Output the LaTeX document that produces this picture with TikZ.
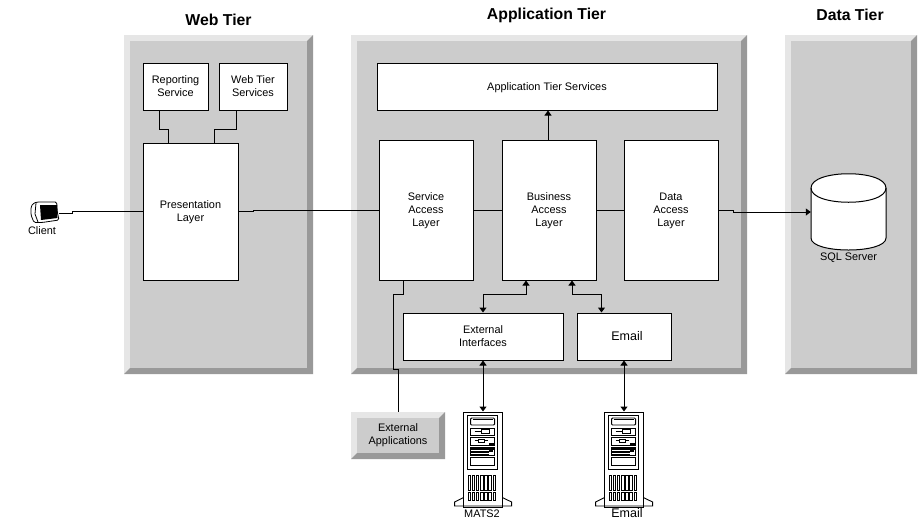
\documentclass[tikz,border=0pt]{standalone}
\usepackage{fontspec}
\setmainfont{Liberation Sans}
\usetikzlibrary{arrows.meta}
\definecolor{faceg}{HTML}{CCCCCC}
\definecolor{lightg}{HTML}{E6E6E6}
\definecolor{darkg}{HTML}{999999}
\newcommand{\bevelpanel}[4]{%
  \fill[lightg] (#1,#2) rectangle (#3,#4);
  \fill[darkg] (#3,#2) -- (#3,#4) -- (#1,#4) -- (#1+6,#4-6) -- (#3-6,#4-6) -- (#3-6,#2+6) -- cycle;
  \fill[faceg] (#1+6,#2+6) rectangle (#3-6,#4-6);
}
\newcommand{\boxtext}[1]{\raisebox{-3.7pt}[0pt][0pt]{\begin{tabular}{@{}c@{}}#1\end{tabular}}}
\tikzset{
  lbox/.style={draw=black,fill=white,line width=1pt,inner sep=0pt,
    font=\fontsize{10.9}{13}\selectfont},
  bigbox/.style={draw=black,fill=white,line width=1pt,inner sep=0pt,align=center,font=\fontsize{12.5}{15}\selectfont},
  title/.style={font=\fontsize{15.8}{18}\selectfont\bfseries,inner sep=0pt},
  lab/.style={font=\fontsize{10.9}{13}\selectfont,inner sep=0pt,align=center},
  biglab/.style={font=\fontsize{12.5}{15}\selectfont,inner sep=0pt},
  wire/.style={draw=black,line width=1pt},
  tip/.style={wire,-{Triangle[length=5pt,width=7pt]}},
  tiptwo/.style={wire,{Triangle[length=5pt,width=7pt]}-{Triangle[length=5pt,width=7pt]}},
  serverpic/.pic={
    \draw[line width=0.9pt] (4,3) rectangle (34.3,57);
    \draw[line width=0.9pt,rounded corners=1pt] (7,6) rectangle (31,13);
    \draw[line width=0.9pt] (9,7.5) -- (29,7.5);
    \draw[line width=0.9pt] (7,16) rectangle (31,23);
    \draw[line width=0.9pt] (11,19.5) -- (18,19.5);
    \draw[line width=0.9pt] (18,17.5) rectangle (26,21.5);
    \draw[line width=0.9pt] (7,25) rectangle (31,33);
    \draw[line width=0.9pt] (11,28.5) -- (24,28.5);
    \draw[line width=0.9pt,fill=white] (15,27) rectangle (21,30);
    \fill (25,30.5) rectangle (31,33);
    \draw[line width=0.9pt] (7,35) rectangle (31,43);
    \fill (7,36) rectangle (31,37.5);
    \fill (7,39) rectangle (25,40.5);
    \fill (7,41.5) rectangle (25,43);
    \fill (25,35) rectangle (29,40);
    \draw[line width=0.9pt] (7,45) rectangle (31,53);
    \foreach \vx in {4.5,8.5,12.5,17,21,25,29.5}{
      \draw[line width=0.6pt] (\vx,63) rectangle (\vx+2.6,78);
      \draw[line width=0.6pt] (\vx,80) rectangle (\vx+2.6,88);
    }
    \draw[line width=0.9pt] (0,85.5) -- (-9,90) -- (-9,94) -- (48,94) -- (48,90) -- (38.7,85.5);
  }
}
\begin{document}
\begin{tikzpicture}[x=1pt,y=-1pt]
\useasboundingbox (0,0) rectangle (920,523);
\fill[white] (0,0) rectangle (920,523);

% tier panels
\bevelpanel{124}{35}{313}{374}
\bevelpanel{351}{35}{747}{374}
\bevelpanel{785}{35}{917}{374}
\bevelpanel{351}{412}{445}{459}

% titles
\node[title] (webtitle) at (218.5,20) {Web Tier};
\node[title] (apptitle) at (546.5,15) {Application Tier};
\node[title] (datatitle) at (850,15) {Data Tier};

% boxes
\node[lbox,minimum width=65pt,minimum height=47pt] (rep) at (175.5,86.5) {\boxtext{Reporting\\Service}};
\node[lbox,minimum width=68pt,minimum height=47pt] (wts) at (253,86.5) {\boxtext{Web Tier\\Services}};
\node[lbox,minimum width=95pt,minimum height=137pt] (pres) at (190.5,211.5) {\boxtext{Presentation\\Layer}};
\node[lbox,minimum width=340pt,minimum height=47pt] (ats) at (547,86.5) {\boxtext{Application Tier Services}};
\node[lbox,minimum width=94pt,minimum height=140pt] (sal) at (426,210) {\boxtext{Service\\Access\\Layer}};
\node[lbox,minimum width=94pt,minimum height=140pt] (bal) at (549,210) {\boxtext{Business\\Access\\Layer}};
\node[lbox,minimum width=94pt,minimum height=140pt] (dal) at (671,210) {\boxtext{Data\\Access\\Layer}};
\node[lbox,minimum width=160pt,minimum height=47pt] (ext) at (483,336.5) {\boxtext{External\\Interfaces}};
\node[bigbox,minimum width=94pt,minimum height=47pt] (eml) at (624,336.5) {\hspace*{6pt}Email};
\node[lab] (extapp) at (398,435.5) {External\\Applications};

% client icon
\node[inner sep=0pt,minimum width=29pt,minimum height=21pt] (client) at (44.5,212) {};
\draw[line width=0.8pt,fill=white,rounded corners=1.5pt] (33,203.5) -- (37,202) -- (56.7,202) -- (57.3,212) -- (59,220) -- (42,222.5) -- (34,222.5) -- (31,215) -- (31,207) -- cycle;
\draw[line width=0.8pt] (36,203) -- (35,214) -- (38,222);
\fill (40,205) -- (57,205) -- (57.5,218) -- (41,220) -- cycle;
\node[lab] (clientlab) at (42,231) {Client};

% SQL cylinder
\node[inner sep=0pt,minimum width=75pt,minimum height=76pt] (sql) at (848.5,212) {};
\draw[line width=1pt,fill=white] (811,188) .. controls (811,169) and (886,169) .. (886,188)
  -- (886,238) .. controls (886,254) and (811,254) .. (811,238) -- cycle;
\draw[line width=1pt] (811,188) .. controls (811,207) and (886,207) .. (886,188);
\node[lab] (sqllab) at (848.5,258) {SQL Server};

% servers
\node[draw=black,fill=white,line width=1pt,inner sep=0pt,minimum width=38.7pt,minimum height=95pt] (mats) at (483,459.5) {};
\pic at (463.6,412) {serverpic};
\node[lab] (matslab) at (482,513.5) {MATS2};
\node[draw=black,fill=white,line width=1pt,inner sep=0pt,minimum width=38.7pt,minimum height=95pt] (mailsrv) at (624,459.5) {};
\pic at (604.6,412) {serverpic};
\node[biglab] (maillab) at (627,513.5) {Email};

% junction coordinates
\coordinate (j1) at (159.5,129.5);
\coordinate (j2) at (168,129.5);
\coordinate (j3) at (236.5,129.5);
\coordinate (j4) at (214.5,129.5);
\coordinate (c1) at (72.5,213);
\coordinate (c2) at (72.5,211);
\coordinate (p1) at (253,211);
\coordinate (p2) at (253,210);
\coordinate (d1) at (733,210);
\coordinate (d2) at (733,212);
\coordinate (b1) at (526,294);
\coordinate (b2) at (483,294);
\coordinate (b3) at (572,294);
\coordinate (b4) at (601.5,294);
\coordinate (s1) at (403.5,294);
\coordinate (s2) at (393.5,294);
\coordinate (s3) at (393.5,369);
\coordinate (s4) at (398.5,369);
\coordinate (s5) at (398.5,412);

% connectors
\draw[wire] (rep.south -| j1) -- (j1) -- (j2) -- (pres.north -| j2);
\draw[wire] (wts.south -| j3) -- (j3) -- (j4) -- (pres.north -| j4);
\draw[wire] (client.east |- c1) -- (c1) -- (c2) -- (pres.west |- c2);
\draw[wire] (pres.east |- p1) -- (p1) -- (p2) -- (sal.west |- p2);
\draw[wire] (sal.east) -- (bal.west);
\draw[wire] (bal.east) -- (dal.west);
\draw[wire] (dal.east |- d1) -- (d1) -- (d2);
\draw[tip] (d2) -- (sql.west);
\draw[tip] (bal.north -| 548,0) -- (ats.south -| 548,0);
\draw[tiptwo] (bal.south -| b1) -- (b1) -- (b2) -- (ext.north -| b2);
\draw[tiptwo] (bal.south -| b3) -- (b3) -- (b4) -- (eml.north -| b4);
\draw[wire] (sal.south -| s1) -- (s1) -- (s2) -- (s3) -- (s4) -- (s5);
\draw[tiptwo] (ext.south) -- (mats.north);
\draw[tiptwo] (eml.south) -- (mailsrv.north);
\end{tikzpicture}
\end{document}
